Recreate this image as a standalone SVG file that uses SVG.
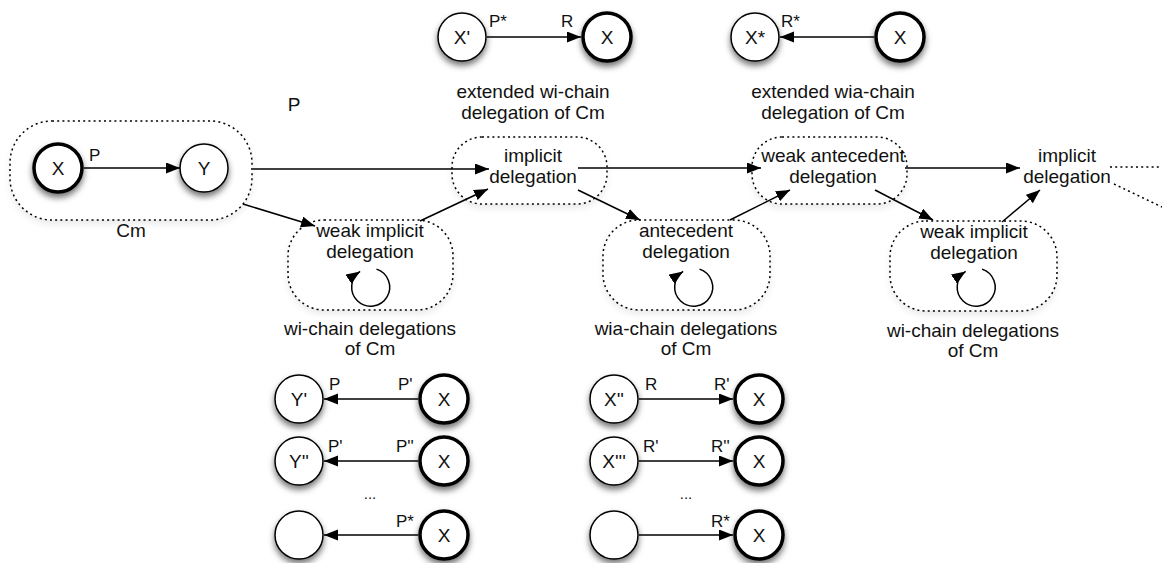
<svg xmlns="http://www.w3.org/2000/svg" width="1162" height="563" viewBox="0 0 1162 563">
<style>
text{font-family:"Liberation Sans",Arial,Helvetica,sans-serif;fill:#111;}
.t{font-size:19px;text-anchor:middle;}
.lbl{font-size:17px;}
.nd{fill:#fff;stroke:#000;stroke-width:1.5;filter:url(#sh);}
.thick{stroke-width:3.5;}
.box{fill:#fff;stroke:#000;stroke-width:1.5;stroke-dasharray:2 3.2;filter:url(#shb);}
.dot{fill:none;stroke:#000;stroke-width:1.5;stroke-dasharray:2 3.2;}
.ln{fill:none;stroke:#000;stroke-width:1.5;marker-end:url(#ah);}
</style>
<defs>
<filter id="sh" x="-50%" y="-50%" width="200%" height="200%">
<feDropShadow dx="0" dy="4" stdDeviation="3" flood-color="#000" flood-opacity="0.55"/>
</filter>
<filter id="shb" x="-20%" y="-20%" width="140%" height="150%">
<feDropShadow dx="0" dy="4" stdDeviation="3" flood-color="#000" flood-opacity="0.08"/>
</filter>
<marker id="ah" markerUnits="userSpaceOnUse" markerWidth="15" markerHeight="12" refX="14" refY="5.5" orient="auto">
<path d="M0,0 L14,5.5 L0,11 z" fill="#000"/>
</marker>
</defs>
<rect width="1162" height="563" fill="#fff"/>

<g id="cm">
<rect class="box" x="10" y="121" width="242" height="99" rx="42"/>
<text class="t" x="131" y="237">Cm</text>
</g>
<g id="cm-x">
<circle class="nd thick" cx="58" cy="168" r="24"/>
<text class="t" x="58" y="175">X</text>
</g>
<g id="cm-y">
<circle class="nd" cx="204" cy="168" r="24"/>
<text class="t" x="204" y="175">Y</text>
</g>
<text class="t" x="294" y="111">P</text>

<g id="implicit1">
<rect class="box" x="452" y="137" width="155" height="67" rx="30"/>
<text class="t" x="533" y="162">implicit</text>
<text class="t" x="533" y="183">delegation</text>
</g>
<g id="weakimplicit1">
<rect class="box" x="288" y="220" width="165" height="90" rx="36"/>
<text class="t" x="370" y="237">weak implicit</text>
<text class="t" x="370" y="258">delegation</text>
<text class="t" x="370" y="335">wi-chain delegations</text>
<text class="t" x="370" y="355">of Cm</text>
</g>
<g id="antecedent">
<rect class="box" x="603" y="220" width="167" height="90" rx="36"/>
<text class="t" x="686" y="237">antecedent</text>
<text class="t" x="686" y="258">delegation</text>
<text class="t" x="686" y="335">wia-chain delegations</text>
<text class="t" x="686" y="355">of Cm</text>
</g>
<g id="weakantecedent">
<rect class="box" x="752" y="137" width="155" height="67" rx="30"/>
<text class="t" x="833" y="162">weak antecedent</text>
<text class="t" x="833" y="183">delegation</text>
</g>
<g id="weakimplicit2">
<rect class="box" x="890" y="221" width="167" height="90" rx="36"/>
<text class="t" x="974" y="238">weak implicit</text>
<text class="t" x="974" y="259">delegation</text>
<text class="t" x="973" y="337">wi-chain delegations</text>
<text class="t" x="973" y="357">of Cm</text>
</g>
<g id="implicit2">
<line class="dot" x1="1110" y1="167" x2="1162" y2="167"/>
<line class="dot" x1="1114" y1="184" x2="1162" y2="207"/>
<text class="t" x="1067" y="162">implicit</text>
<text class="t" x="1067" y="183">delegation</text>
</g>

<g id="ext-wi">
<circle class="nd" cx="462" cy="37" r="24"/>
<text class="t" x="462" y="44">X'</text>
<circle class="nd thick" cx="607" cy="37" r="24"/>
<text class="t" x="607" y="44">X</text>
<text class="t" x="533" y="98">extended wi-chain</text>
<text class="t" x="533" y="119">delegation of Cm</text>
</g>
<g id="ext-wia">
<circle class="nd" cx="755" cy="37" r="24"/>
<text class="t" x="755" y="44">X*</text>
<circle class="nd thick" cx="900" cy="37" r="24"/>
<text class="t" x="900" y="44">X</text>
<text class="t" x="833" y="98">extended wia-chain</text>
<text class="t" x="833" y="119">delegation of Cm</text>
</g>

<g id="wi-rows">
<circle class="nd" cx="299" cy="399" r="24"/>
<text class="t" x="299" y="406">Y'</text>
<circle class="nd thick" cx="444" cy="399" r="24"/>
<text class="t" x="444" y="406">X</text>
<circle class="nd" cx="299" cy="461" r="24"/>
<text class="t" x="299" y="468">Y''</text>
<circle class="nd thick" cx="444" cy="461" r="24"/>
<text class="t" x="444" y="468">X</text>
<text class="t" x="370" y="499" style="font-size:15px">...</text>
<circle class="nd" cx="299" cy="535" r="24"/>
<circle class="nd thick" cx="444" cy="535" r="24"/>
<text class="t" x="444" y="542">X</text>
</g>
<g id="wia-rows">
<circle class="nd" cx="614" cy="399" r="24"/>
<text class="t" x="614" y="406">X''</text>
<circle class="nd thick" cx="759" cy="399" r="24"/>
<text class="t" x="759" y="406">X</text>
<circle class="nd" cx="614" cy="461" r="24"/>
<text class="t" x="614" y="468">X'''</text>
<circle class="nd thick" cx="759" cy="461" r="24"/>
<text class="t" x="759" y="468">X</text>
<text class="t" x="686" y="499" style="font-size:15px">...</text>
<circle class="nd" cx="614" cy="535" r="24"/>
<circle class="nd thick" cx="759" cy="535" r="24"/>
<text class="t" x="759" y="542">X</text>
</g>

<g id="connectors">
<line class="ln" x1="84" y1="168" x2="180" y2="168"/>
<text class="lbl" x="89" y="161">P</text>
<line class="ln" x1="253" y1="169" x2="489" y2="169"/>
<line class="ln" x1="243" y1="204" x2="315" y2="226"/>
<line class="ln" x1="420" y1="221" x2="488" y2="189"/>
<line class="ln" x1="578" y1="168" x2="761" y2="168"/>
<line class="ln" x1="578" y1="190" x2="640" y2="220"/>
<line class="ln" x1="730" y1="220" x2="790" y2="190"/>
<line class="ln" x1="905" y1="168" x2="1020" y2="168"/>
<line class="ln" x1="875" y1="190" x2="933" y2="220"/>
<line class="ln" x1="1002" y1="222" x2="1040" y2="190"/>
<path class="ln" d="M376.5,269.1 A19,19 0 1 1 360.1,271.4"/>
<path class="ln" d="M699.5,269.1 A19,19 0 1 1 683.1,271.4"/>
<path class="ln" d="M982,269.1 A19,19 0 1 1 965.6,271.4"/>
<line class="ln" x1="487" y1="37" x2="581" y2="37"/>
<text class="lbl" x="489" y="27">P*</text>
<text class="lbl" x="561" y="27">R</text>
<line class="ln" x1="874" y1="37" x2="780" y2="37"/>
<text class="lbl" x="781" y="27">R*</text>
<line class="ln" x1="418" y1="399" x2="324" y2="399"/>
<text class="lbl" x="329" y="390">P</text>
<text class="lbl" x="398" y="390">P'</text>
<line class="ln" x1="418" y1="461" x2="324" y2="461"/>
<text class="lbl" x="328" y="452">P'</text>
<text class="lbl" x="396" y="452">P''</text>
<line class="ln" x1="418" y1="535" x2="324" y2="535"/>
<text class="lbl" x="396" y="527">P*</text>
<line class="ln" x1="639" y1="399" x2="733" y2="399"/>
<text class="lbl" x="645" y="390">R</text>
<text class="lbl" x="714" y="390">R'</text>
<line class="ln" x1="639" y1="461" x2="733" y2="461"/>
<text class="lbl" x="643" y="452">R'</text>
<text class="lbl" x="711" y="452">R''</text>
<line class="ln" x1="639" y1="535" x2="733" y2="535"/>
<text class="lbl" x="711" y="527">R*</text>
</g>
</svg>
